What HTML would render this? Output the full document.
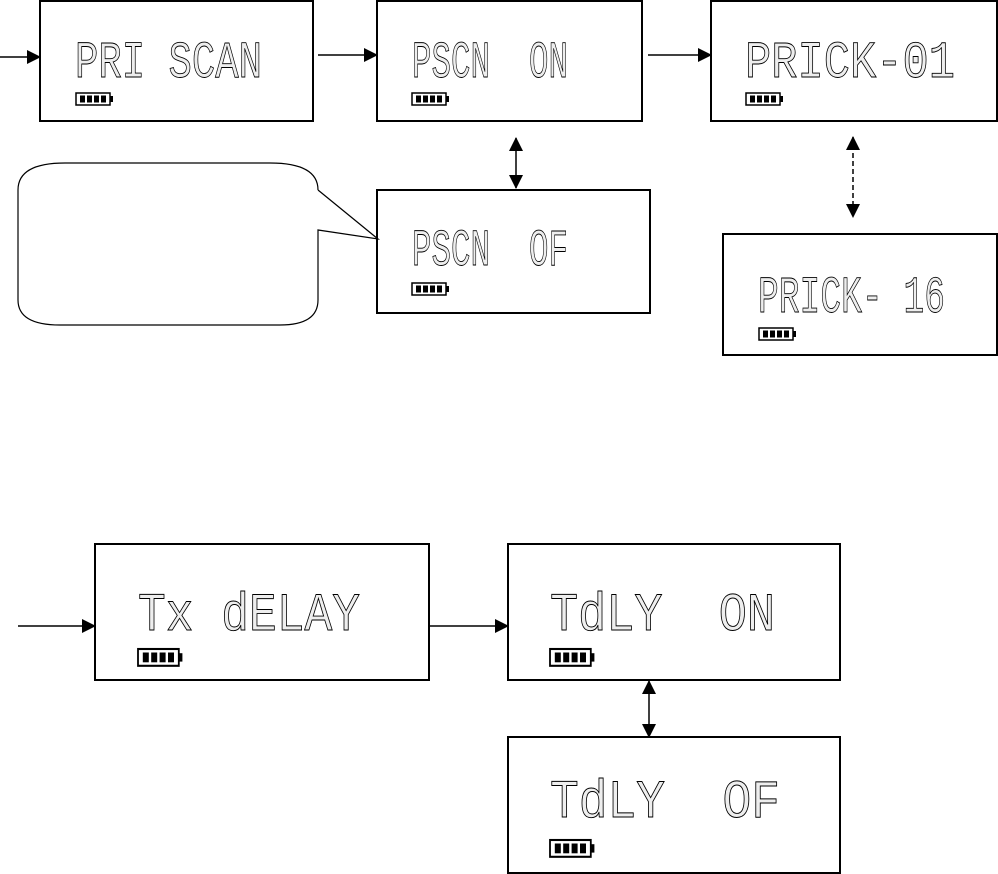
<!DOCTYPE html>
<html><head><meta charset="utf-8"><style>html,body{margin:0;padding:0;background:#fff}svg{display:block}text{white-space:pre}</style></head>
<body>
<svg width="998" height="874" viewBox="0 0 998 874" xmlns="http://www.w3.org/2000/svg" xml:space="preserve">
<defs>
<marker id="as" markerWidth="14" markerHeight="14" refX="13" refY="7" orient="auto-start-reverse" markerUnits="userSpaceOnUse"><path d="M0,0 L14,7 L0,14 z" fill="#000"/></marker>
<g id="bat"><rect x="0" y="0" width="34" height="12" fill="#fff" stroke="#000" stroke-width="1.5"/><rect x="34" y="3" width="3" height="6" fill="#000"/><rect x="4" y="2.5" width="5" height="7" fill="#000"/><rect x="11" y="2.5" width="5" height="7" fill="#000"/><rect x="18" y="2.5" width="5" height="7" fill="#000"/><rect x="25" y="2.5" width="5" height="7" fill="#000"/></g>
</defs>
<g fill="#fff" stroke="#000" stroke-width="2">
<rect x="40" y="1" width="273" height="120"/>
<rect x="377" y="1" width="265" height="120"/>
<rect x="711" y="1" width="286" height="120"/>
<rect x="377" y="190" width="273" height="123"/>
<rect x="723" y="234" width="274" height="121"/>
<rect x="95" y="544" width="334" height="136"/>
<rect x="508" y="544" width="332" height="136"/>
<rect x="508" y="737" width="332" height="136"/>
</g>
<path d="M318,190 L378,239 L318,230 L318,300 Q318,325 280,325 L60,325 Q18,325 18,300 L18,190 Q18,163 65,163 L270,163 Q318,163 318,190" fill="#fff" stroke="#000" stroke-width="1.2"/>
<g stroke="#000" stroke-width="1.5" fill="none">
<line x1="0" y1="57" x2="40" y2="57" marker-end="url(#as)"/>
<line x1="318" y1="55" x2="377" y2="55" marker-end="url(#as)"/>
<line x1="648" y1="55" x2="711" y2="55" marker-end="url(#as)"/>
<line x1="516" y1="138" x2="516" y2="188" marker-start="url(#as)" marker-end="url(#as)"/>
<line x1="853" y1="137" x2="853" y2="217" stroke-dasharray="5,3" marker-start="url(#as)" marker-end="url(#as)"/>
<line x1="18" y1="626" x2="95" y2="626" marker-end="url(#as)"/>
<line x1="430" y1="626" x2="508" y2="626" marker-end="url(#as)"/>
<line x1="649" y1="681" x2="649" y2="737" marker-start="url(#as)" marker-end="url(#as)"/>
</g>
<g font-family="Liberation Mono, monospace" fill="#eee" stroke="#000" stroke-width="0.7" font-size="40">
<text transform="translate(75,77) scale(1,1.3)" textLength="187" lengthAdjust="spacingAndGlyphs">PRI SCAN</text>
<text transform="translate(412,77) scale(1,1.3)" textLength="156" lengthAdjust="spacingAndGlyphs">PSCN  ON</text>
<text transform="translate(745,77) scale(1,1.3)" textLength="210" lengthAdjust="spacingAndGlyphs">PRICK-01</text>
<text transform="translate(412,265) scale(1,1.3)" textLength="156" lengthAdjust="spacingAndGlyphs">PSCN  OF</text>
<text transform="translate(758,312) scale(1,1.3)" textLength="187" lengthAdjust="spacingAndGlyphs">PRICK- 16</text>
<text transform="translate(138,630) scale(1,1.35)" textLength="222" lengthAdjust="spacingAndGlyphs">Tx dELAY</text>
<text transform="translate(550,630) scale(1,1.35)" textLength="225" lengthAdjust="spacingAndGlyphs">TdLY  ON</text>
<text transform="translate(550,817) scale(1,1.35)" textLength="230" lengthAdjust="spacingAndGlyphs">TdLY  OF</text>
</g>
<use href="#bat" x="76" y="93"/>
<use href="#bat" x="412" y="93"/>
<use href="#bat" x="746" y="93"/>
<use href="#bat" x="412" y="283"/>
<use href="#bat" x="759" y="328"/>
<g transform="translate(138,649) scale(1.2,1.4)"><use href="#bat"/></g>
<g transform="translate(550,649) scale(1.2,1.4)"><use href="#bat"/></g>
<g transform="translate(550,840) scale(1.2,1.4)"><use href="#bat"/></g>
</svg>
</body></html>
